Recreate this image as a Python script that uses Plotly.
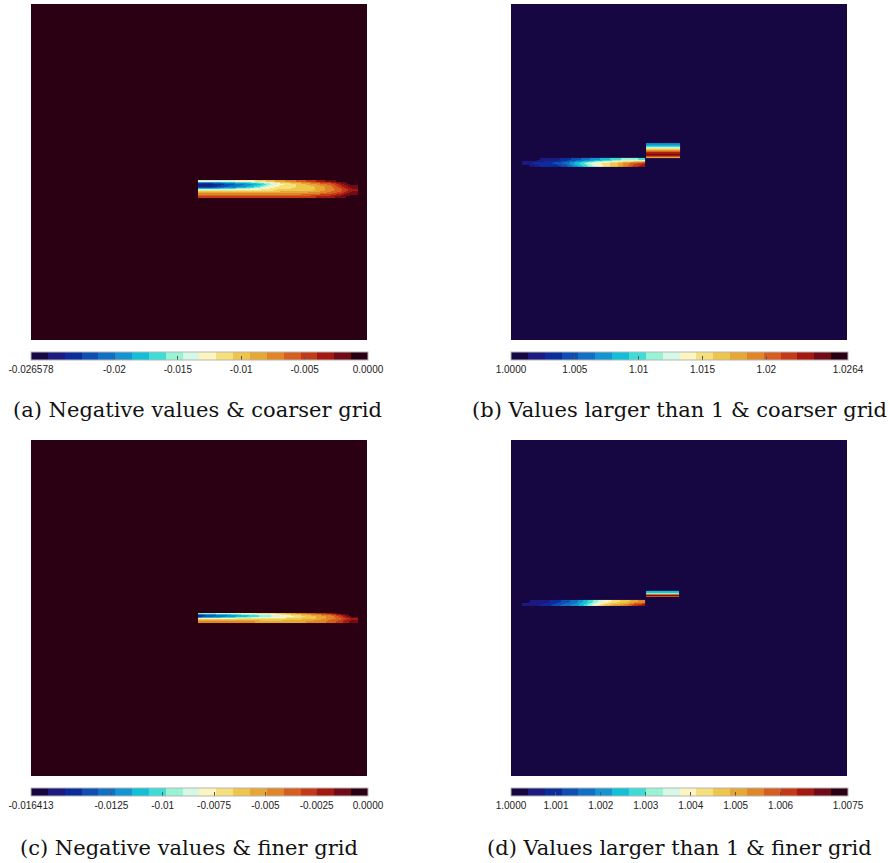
import plotly.graph_objects as go

# ---------------- colour map (20 discrete bands) ----------------
band_colors = ["#160742", "#1c1a80", "#0d2c9c", "#0e4fb2", "#1270c4", "#1494d0",
               "#12bfd6", "#3edcd6", "#96f4d4", "#d6f8e6", "#fdf5c0", "#f6e07c",
               "#efc54c", "#e6a734", "#e08528", "#d65e20", "#c43a18", "#a3180f",
               "#700a18", "#2a0012"]

# ---------------- data ----------------
range_a = [-0.026578, 0.0]
range_b = [1.0, 1.0264]
range_c = [-0.016413, 0.0]
range_d = [1.0, 1.0075]

ticks_a = [-0.026578, -0.02, -0.015, -0.01, -0.005, 0.0]
labels_a = ["-0.026578", "-0.02", "-0.015", "-0.01", "-0.005", "0.0000"]
ticks_b = [1.0, 1.005, 1.01, 1.015, 1.02, 1.0264]
labels_b = ["1.0000", "1.005", "1.01", "1.015", "1.02", "1.0264"]
ticks_c = [-0.016413, -0.0125, -0.01, -0.0075, -0.005, -0.0025, 0.0]
labels_c = ["-0.016413", "-0.0125", "-0.01", "-0.0075", "-0.005", "-0.0025", "0.0000"]
ticks_d = [1.0, 1.001, 1.002, 1.003, 1.004, 1.005, 1.006, 1.0075]
labels_d = ["1.0000", "1.001", "1.002", "1.003", "1.004", "1.005", "1.006", "1.0075"]

bg_a = 0.0
bg_b = 1.0
bg_c = 0.0
bg_d = 1.0

# streak grids for panels a and c (normalised coordinates)
streak_x_ac = [0.497, 0.518, 0.548, 0.577, 0.607, 0.637, 0.667, 0.696, 0.726,
               0.756, 0.786, 0.815, 0.845, 0.875, 0.905, 0.935, 0.973]
streak_y_a = [0.476, 0.470, 0.461, 0.452, 0.443, 0.435, 0.423]   # top -> bottom
streak_z_a = [  # rows top -> bottom
    [-0.0140, -0.0140, -0.0140, -0.0140, -0.0126, -0.0126, -0.0113, -0.0100,
     -0.0086, -0.0073, -0.0060, -0.0047, -0.0033, -0.0020, -0.0007, -0.0007],
    [-0.0246, -0.0246, -0.0233, -0.0219, -0.0206, -0.0193, -0.0179, -0.0153,
     -0.0126, -0.0113, -0.0100, -0.0086, -0.0073, -0.0060, -0.0033, -0.0007],
    [-0.0233, -0.0233, -0.0219, -0.0206, -0.0193, -0.0179, -0.0153, -0.0126,
     -0.0113, -0.0113, -0.0100, -0.0100, -0.0086, -0.0073, -0.0047, -0.0020],
    [-0.0126, -0.0126, -0.0126, -0.0126, -0.0113, -0.0113, -0.0113, -0.0113,
     -0.0100, -0.0100, -0.0100, -0.0100, -0.0086, -0.0073, -0.0060, -0.0033],
    [-0.0086, -0.0086, -0.0086, -0.0086, -0.0086, -0.0086, -0.0086, -0.0086,
     -0.0086, -0.0086, -0.0086, -0.0073, -0.0073, -0.0060, -0.0047, -0.0020],
    [-0.0047, -0.0047, -0.0047, -0.0047, -0.0047, -0.0047, -0.0047, -0.0047,
     -0.0047, -0.0047, -0.0047, -0.0047, -0.0033, -0.0033, -0.0020, -0.0007],
]
streak_y_c = [0.485, 0.481, 0.473, 0.466, 0.455]
streak_z_c = [
    [-0.0095, -0.0095, -0.0087, -0.0087, -0.0078, -0.0078, -0.0070, -0.0070,
     -0.0062, -0.0054, -0.0046, -0.0037, -0.0029, -0.0021, -0.0004, -0.0004],
    [-0.0152, -0.0144, -0.0136, -0.0127, -0.0119, -0.0111, -0.0103, -0.0095,
     -0.0087, -0.0078, -0.0070, -0.0062, -0.0054, -0.0046, -0.0029, -0.0004],
    [-0.0078, -0.0078, -0.0078, -0.0078, -0.0070, -0.0070, -0.0070, -0.0070,
     -0.0070, -0.0062, -0.0062, -0.0062, -0.0054, -0.0046, -0.0037, -0.0021],
    [-0.0046, -0.0046, -0.0046, -0.0046, -0.0046, -0.0046, -0.0054, -0.0054,
     -0.0054, -0.0054, -0.0054, -0.0046, -0.0046, -0.0037, -0.0029, -0.0013],
]

# streak + box grids for panels b and d
streak_x_bd = [0.033, 0.057, 0.086, 0.116, 0.146, 0.176, 0.205, 0.235, 0.265,
               0.295, 0.324, 0.354, 0.378, 0.399]
streak_y_b = [0.542, 0.533, 0.524, 0.515]
streak_z_b = [
    [1.0007, 1.0007, 1.0020, 1.0020, 1.0033, 1.0046, 1.0059, 1.0073, 1.0086,
     1.0099, 1.0112, 1.0112, 1.0099],
    [1.0020, 1.0033, 1.0033, 1.0046, 1.0059, 1.0086, 1.0112, 1.0139, 1.0152,
     1.0165, 1.0191, 1.0205, 1.0218],
    [1.0007, 1.0020, 1.0033, 1.0033, 1.0046, 1.0073, 1.0099, 1.0125, 1.0152,
     1.0165, 1.0191, 1.0218, 1.0231],
]
box_x_b = [0.402, 0.452, 0.503]
box_y_b = [0.586, 0.580, 0.574, 0.568, 0.562, 0.557, 0.551, 0.545, 0.542]
box_z_b = [1.0073, 1.0099, 1.0152, 1.0191, 1.0231, 1.0244, 1.0205, 1.0152]

streak_y_d = [0.524, 0.515, 0.506]
streak_z_d = [
    [1.0002, 1.0006, 1.0006, 1.0009, 1.0013, 1.0017, 1.0024, 1.0032, 1.0039,
     1.0043, 1.0047, 1.0051, 1.0054],
    [1.0006, 1.0006, 1.0009, 1.0013, 1.0017, 1.0021, 1.0028, 1.0039, 1.0047,
     1.0051, 1.0054, 1.0062, 1.0066],
]
box_x_d = [0.402, 0.451, 0.500]
box_y_d = [0.551, 0.546, 0.542, 0.537, 0.533]
box_z_d = [1.0024, 1.0043, 1.0069, 1.0047]

captions = ["(a) Negative values & coarser grid",
            "(b) Values larger than 1 & coarser grid",
            "(c) Negative values & finer grid",
            "(d) Values larger than 1 & finer grid"]

# ---------------- figure ----------------
W, H = 890, 863
colorscale = []
n = len(band_colors)
for i, c in enumerate(band_colors):
    colorscale.append([i / n, c])
    colorscale.append([(i + 1) / n, c])

fig = go.Figure()

panels = [
    dict(left=31, top=4, cb_top=352, rng=range_a, tv=ticks_a, tt=labels_a, bg=bg_a,
         fields=[(streak_x_ac, streak_y_a, streak_z_a)], cap=captions[0], cap_x=197, cap_y=410),
    dict(left=511, top=4, cb_top=352, rng=range_b, tv=ticks_b, tt=labels_b, bg=bg_b,
         fields=[(streak_x_bd, streak_y_b, streak_z_b),
                 (box_x_b, box_y_b, [[v, v] for v in box_z_b])], cap=captions[1], cap_x=679, cap_y=410),
    dict(left=31, top=440, cb_top=788, rng=range_c, tv=ticks_c, tt=labels_c, bg=bg_c,
         fields=[(streak_x_ac, streak_y_c, streak_z_c)], cap=captions[2], cap_x=189, cap_y=848),
    dict(left=511, top=440, cb_top=788, rng=range_d, tv=ticks_d, tt=labels_d, bg=bg_d,
         fields=[(streak_x_bd, streak_y_d, streak_z_d),
                 (box_x_d, box_y_d, [[v, v] for v in box_z_d])], cap=captions[3], cap_x=679, cap_y=848),
]
SIZE = 336

layout_extra = {}
annotations = []
for k, p in enumerate(panels, start=1):
    sfx = "" if k == 1 else str(k)
    xa, ya = "x" + sfx, "y" + sfx
    ca = "coloraxis" + sfx
    fig.add_trace(go.Heatmap(z=[[p["bg"]]], x=[0, 1], y=[0, 1], coloraxis=ca,
                             xaxis=xa, yaxis=ya, hoverinfo="skip", zsmooth=False))
    for fx, fy, fz in p["fields"]:
        fig.add_trace(go.Heatmap(z=list(reversed(fz)), x=fx, y=list(reversed(fy)),
                                 coloraxis=ca, xaxis=xa, yaxis=ya,
                                 hoverinfo="skip", zsmooth="best"))
    x0 = p["left"] / W
    x1 = (p["left"] + SIZE) / W
    y1 = 1 - p["top"] / H
    y0 = 1 - (p["top"] + SIZE) / H
    layout_extra["xaxis" + sfx] = dict(domain=[x0, x1], range=[0, 1], visible=False,
                                       fixedrange=True, anchor=ya)
    layout_extra["yaxis" + sfx] = dict(domain=[y0, y1], range=[0, 1], visible=False,
                                       fixedrange=True, anchor=xa)
    layout_extra[ca] = dict(
        cmin=p["rng"][0], cmax=p["rng"][1], colorscale=colorscale,
        colorbar=dict(orientation="h", lenmode="pixels", len=337, thickness=8,
                      x=(p["left"] + 168.5) / W, xanchor="center",
                      y=1 - p["cb_top"] / H, yanchor="top", xpad=0, ypad=0,
                      tickmode="array", tickvals=p["tv"], ticktext=p["tt"],
                      ticks="inside", ticklen=4, tickcolor="#555",
                      tickfont=dict(family="Liberation Sans, Arial, sans-serif", size=10, color="#222"),
                      outlinewidth=1, outlinecolor="#b5b5b5"))
    annotations.append(dict(text=p["cap"], x=p["cap_x"] / W, y=1 - p["cap_y"] / H,
                            xref="paper", yref="paper", xanchor="center", yanchor="middle",
                            showarrow=False,
                            font=dict(family="DejaVu Serif, serif", size=21, color="#111")))

fig.update_layout(width=W, height=H, margin=dict(l=0, r=0, t=0, b=0),
                  paper_bgcolor="white", plot_bgcolor="white", showlegend=False,
                  annotations=annotations, **layout_extra)

fig.write_html("out.html", config={"displayModeBar": False},
               post_script="document.body.style.margin='0px';document.body.style.overflow='hidden';")
